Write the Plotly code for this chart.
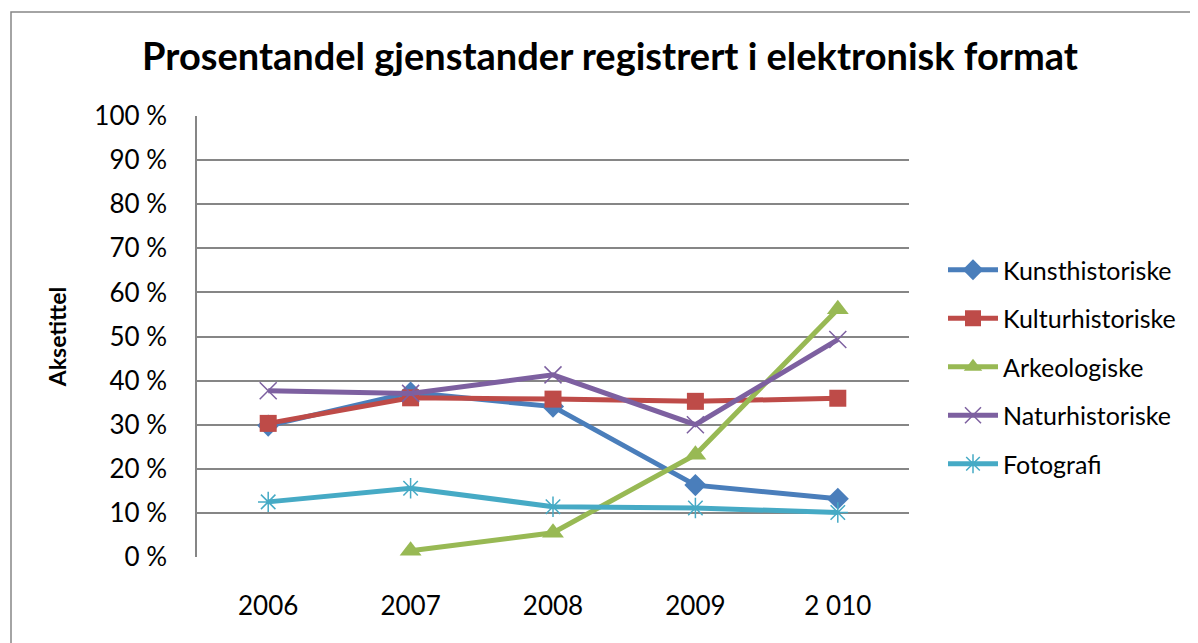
import plotly.graph_objects as go

years = ["2006", "2007", "2008", "2009", "2010"]
tick_labels = ["2006", "2007", "2008", "2009", "2 010"]

kunsthistoriske = [29.8, 37.3, 34.1, 16.3, 13.2]
kulturhistoriske = [30.3, 36.1, 35.8, 35.3, 36.0]
arkeologiske = [None, 1.4, 5.5, 23.2, 56.2]
naturhistoriske = [37.7, 37.1, 41.3, 30.0, 49.3]
fotografi = [12.5, 15.6, 11.4, 11.1, 10.1]

y_ticks = list(range(0, 101, 10))
y_tick_labels = [f"{v} %" for v in y_ticks]

series = [
    ("Kunsthistoriske", kunsthistoriske, "#4A7EBB", "diamond", 17),
    ("Kulturhistoriske", kulturhistoriske, "#BE4B48", "square", 17),
    ("Arkeologiske", arkeologiske, "#98B954", "triangle-up", 19),
    ("Naturhistoriske", naturhistoriske, "#7D60A0", "x-thin", 17),
    ("Fotografi", fotografi, "#46AAC5", "asterisk", 17),
]

FONT = "Lato"
W, H = 1198, 643
OFF = 8  # page body margin
L, T = 197 - OFF, 116 - OFF
R = W - (909 - OFF)
B = H - (557 - OFF)
PW = W - L - R
PH = H - T - B

fig = go.Figure()
for name, vals, color, sym, size in series:
    thin = sym in ("x-thin", "asterisk")
    fig.add_trace(go.Scatter(
        x=years, y=vals, name=name, mode="lines+markers", legendgroup=name,
        line=dict(color=color, width=5),
        marker=dict(symbol=sym, size=size, color=color,
                    line=dict(color=color, width=1.5 if thin else 0)),
        connectgaps=False,
    ))

fig.update_layout(
    width=W, height=H,
    margin=dict(l=L, r=R, t=T, b=B),
    paper_bgcolor="white", plot_bgcolor="white",
    title=dict(text="<b>Prosentandel gjenstander registrert i elektronisk format</b>",
               x=(610 - OFF) / W, xanchor="center", y=1 - (57 - OFF) / H, yanchor="middle",
               font=dict(family=FONT, size=38, color="black")),
    font=dict(family=FONT, color="black"),
    showlegend=True,
    legend=dict(xref="container", yref="container", x=(943 - OFF) / W, y=1 - (367 - OFF) / H,
                xanchor="left", yanchor="middle",
                font=dict(family=FONT, size=25, color="black"),
                tracegroupgap=13, itemwidth=50, bgcolor="rgba(0,0,0,0)"),
    shapes=[dict(type="rect", xref="paper", yref="paper",
                 x0=(11 - OFF - L) / PW, x1=(1300 - L) / PW,
                 y0=-2, y1=1 + (T - (12 - OFF)) / PH,
                 line=dict(color="#868686", width=1.5), fillcolor="rgba(0,0,0,0)",
                 layer="below")],
)

fig.update_xaxes(
    type="category", range=[-0.5, 4.5],
    tickmode="array", tickvals=years, ticktext=tick_labels,
    tickfont=dict(family=FONT, size=26, color="black"),
    showgrid=False, showline=False, ticks="", ticklabelstandoff=31,
    zeroline=False,
)
fig.update_yaxes(
    range=[0, 100], tickmode="array", tickvals=y_ticks, ticktext=y_tick_labels,
    tickfont=dict(family=FONT, size=26, color="black"),
    showgrid=True, gridcolor="#868686", gridwidth=1.5,
    showline=True, linecolor="#868686", linewidth=1.5,
    ticks="", ticklabelstandoff=23, zeroline=False,
    title=dict(text="<b>Aksetittel</b>", font=dict(family=FONT, size=23, color="black"),
               standoff=21),
)

fig.write_html("out.html")
